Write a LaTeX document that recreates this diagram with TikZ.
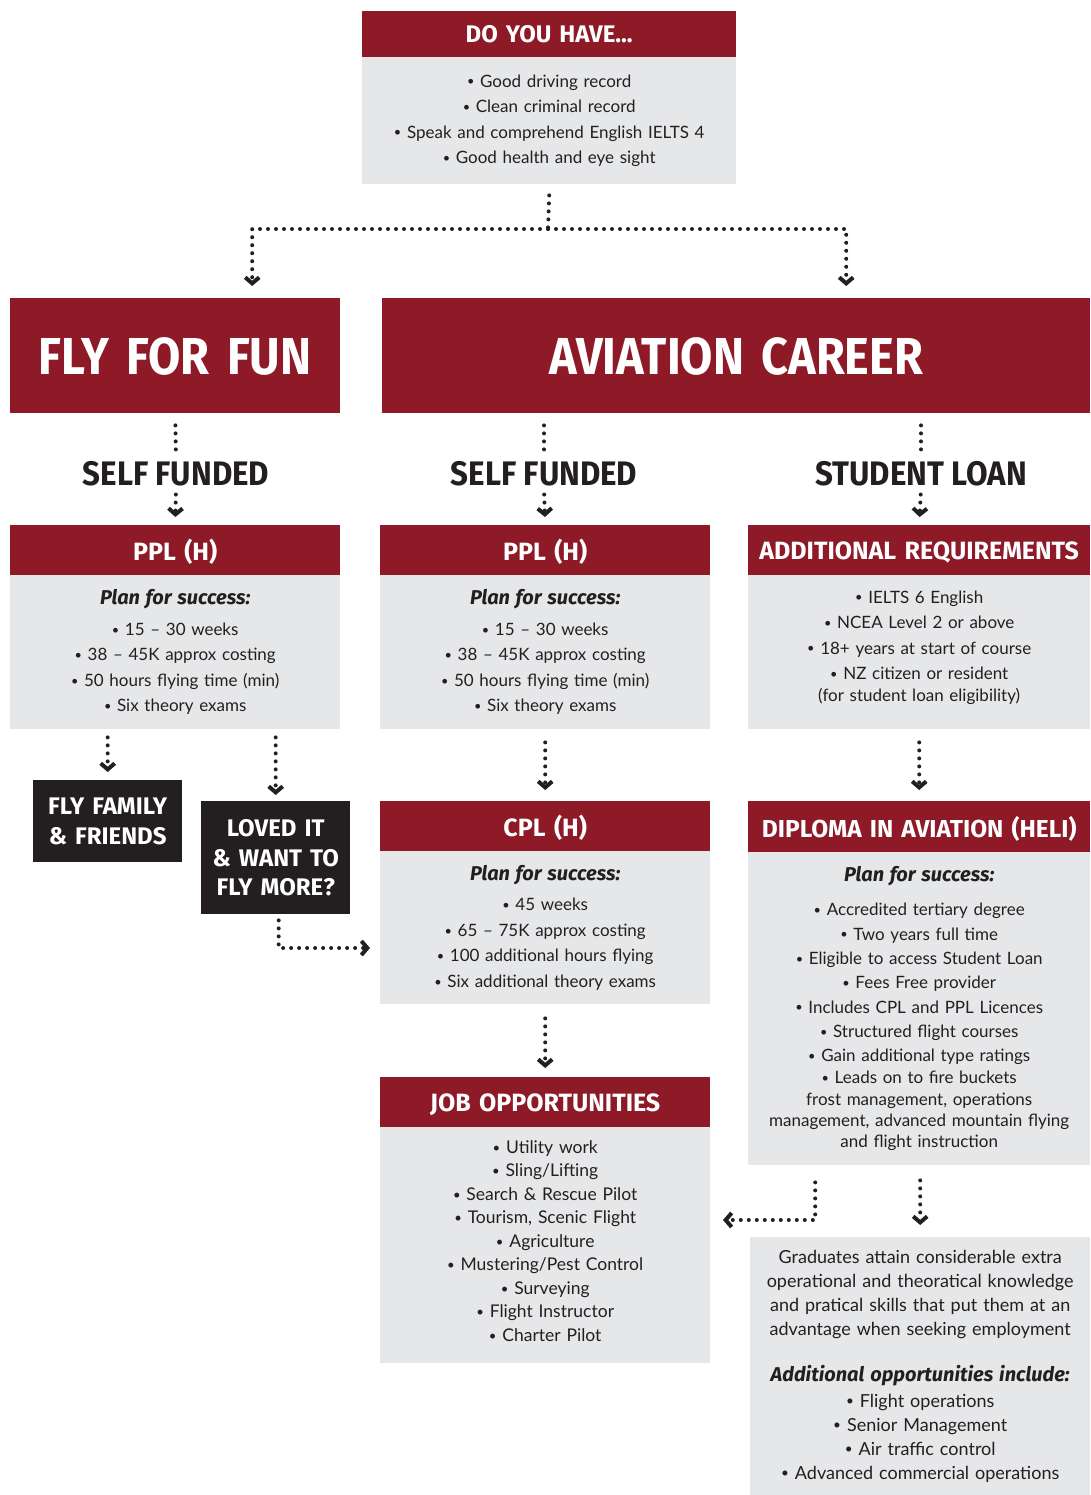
\documentclass[tikz,border=0pt]{standalone}
\usepackage{fontspec}
\setmainfont{Lato}
\newfontfamily\headfont{Fira Sans}
\newfontfamily\tallfont{Fira Sans}[FakeStretch=0.9]
\newfontfamily\narrowfont{Fira Sans}[FakeStretch=0.92]
\usetikzlibrary{arrows.meta}
\definecolor{wine}{RGB}{142,26,40}
\definecolor{panel}{RGB}{230,231,232}
\definecolor{ink}{RGB}{35,31,32}
\tikzset{
  head/.style={fill=wine, text=white, anchor=north west, inner sep=0pt, align=center, text depth=0pt,
    font=\headfont\bfseries\fontsize{25}{28}\selectfont},
  body/.style={fill=panel, text=ink, anchor=north west, inner sep=0pt, align=center,
    font=\fontsize{17}{25.5}\selectfont},
  darkbox/.style={fill=ink, text=white, anchor=north west, inner sep=0pt, align=center,
    font=\headfont\bfseries\fontsize{24}{29.5}\selectfont},
  branch/.style={text=ink, inner sep=2pt, font=\narrowfont\bfseries\fontsize{34}{40}\selectfont},
  dots/.style={draw=ink, line width=4pt, line cap=round, dash pattern=on 0pt off 8pt},
  route/.style={dots, -{Straight Barb[length=6pt,width=14pt,line width=4pt]}}
}
\newcommand{\bul}{\raisebox{0.15ex}{\scalebox{0.75}{\textbullet}}\ }
\newcommand{\plan}{{\headfont\bfseries\itshape\fontsize{20}{24}\selectfont Plan for success:}}
\begin{document}
\begin{tikzpicture}[x=1pt,y=-1pt]
\useasboundingbox (0,0) rectangle (1090,1495);
\node[head, text width=374pt, minimum height=46pt, font=\headfont\bfseries\fontsize{24}{28}\selectfont] (havehead) at (362,11) {DO YOU HAVE...};
\node[body, text width=374pt, minimum height=127pt] (havebody) at (362,57)
  {\bul Good driving record\\ \bul Clean criminal record\\
   \bul Speak and comprehend English IELTS 4\\ \bul Good health and eye sight};
\node[head, text width=330pt, minimum height=115pt, font=\tallfont\bfseries\fontsize{52}{60}\selectfont] (fun) at (10,298) {FLY FOR FUN};
\node[head, text width=708pt, minimum height=115pt, font=\tallfont\bfseries\fontsize{52}{60}\selectfont] (career) at (382,298) {AVIATION CAREER};
\node[branch] (self1) at (176,474) {SELF FUNDED};
\node[branch] (self2) at (544,474) {SELF FUNDED};
\node[branch] (loan) at (921,474) {STUDENT LOAN};
\node[head, text width=330pt, minimum height=50pt] (ppl1head) at (10,525) {PPL (H)};
\node[body, text width=330pt, minimum height=154pt] (ppl1body) at (10,575)
  {\plan\\[5pt] \bul 15 -- 30 weeks\\ \bul 38 -- 45K approx costing\\
   \bul 50 hours flying time (min)\\ \bul Six theory exams};
\node[head, text width=330pt, minimum height=50pt] (ppl2head) at (380,525) {PPL (H)};
\node[body, text width=330pt, minimum height=154pt] (ppl2body) at (380,575)
  {\plan\\[5pt] \bul 15 -- 30 weeks\\ \bul 38 -- 45K approx costing\\
   \bul 50 hours flying time (min)\\ \bul Six theory exams};
\node[head, text width=342pt, minimum height=50pt] (reqhead) at (748,525) {ADDITIONAL REQUIREMENTS};
\node[body, text width=342pt, minimum height=154pt] (reqbody) at (748,575)
  {\bul IELTS 6 English\\ \bul NCEA Level 2 or above\\
   \bul 18+ years at start of course\\ \bul NZ citizen or resident\\[-4pt]
   (for student loan eligibility)\\[-13pt]\mbox{}};
\node[darkbox, text width=149pt, minimum height=82pt] (family) at (33,780) {FLY FAMILY\\ \& FRIENDS};
\node[darkbox, text width=149pt, minimum height=113pt] (loved) at (201,801) {LOVED IT\\ \& WANT TO\\ FLY MORE?};
\node[head, text width=330pt, minimum height=50pt] (cplhead) at (380,801) {CPL (H)};
\node[body, text width=330pt, minimum height=153pt] (cplbody) at (380,851)
  {\plan\\[5pt] \bul 45 weeks\\ \bul 65 -- 75K approx costing\\
   \bul 100 additional hours flying\\ \bul Six additional theory exams};
\node[head, text width=342pt, minimum height=51pt, font=\headfont\bfseries\fontsize{24.5}{28}\selectfont] (diphead) at (748,801) {DIPLOMA IN AVIATION (HELI)};
\node[body, text width=342pt, minimum height=313pt, font=\fontsize{17}{24.3}\selectfont] (dipbody) at (748,852)
  {\plan\\[10pt] \bul Accredited tertiary degree\\ \bul Two years full time\\
   \bul Eligible to access Student Loan\\ \bul Fees Free provider\\
   \bul Includes CPL and PPL Licences\\ \bul Structured flight courses\\
   \bul Gain additional type ratings\\[-2pt] \bul Leads on to fire buckets\\[-3pt]
   frost management, operations\\[-3pt] management, advanced mountain flying\\[-3pt] and flight instruction};
\node[head, text width=330pt, minimum height=50pt] (jobhead) at (380,1077) {JOB OPPORTUNITIES};
\node[body, text width=330pt, minimum height=236pt, font=\fontsize{17.5}{23.5}\selectfont] (jobbody) at (380,1127)
  {\bul Utility work\\ \bul Sling/Lifting\\ \bul Search \& Rescue Pilot\\
   \bul Tourism, Scenic Flight\\ \bul Agriculture\\ \bul Mustering/Pest Control\\
   \bul Surveying\\ \bul Flight Instructor\\ \bul Charter Pilot\\[-15pt]\mbox{}};
\node[body, text width=340pt, minimum height=258pt, font=\fontsize{18}{24}\selectfont] (grads) at (750,1237)
  {Graduates attain considerable extra\\ operational and theoratical knowledge\\
   and pratical skills that put them at an\\ advantage when seeking employment\\[22pt]
   {\headfont\bfseries\itshape\fontsize{20}{24}\selectfont Additional opportunities include:}\\[2pt]
   \bul Flight operations\\ \bul Senior Management\\
   \bul Air traffic control\\ \bul Advanced commercial operations};
\coordinate (split) at (548,229);
\coordinate (loopin) at (370,948);
\coordinate (jobin) at (723,1220);
\draw[dots] ([yshift=-11pt]havebody.south) -- (split);
\draw[route] (split) -| ([xshift=77pt,yshift=12pt]fun.north);
\draw[route] (split) -| ([xshift=110pt,yshift=12pt]career.north);
\draw[dots, shorten <=12pt, shorten >=4pt] (fun.south) -- (self1.north);
\draw[dots, shorten <=12pt, shorten >=4pt] (self2.north |- career.south) -- (self2.north);
\draw[dots, shorten <=12pt, shorten >=4pt] (loan.north |- career.south) -- (loan.north);
\draw[route, shorten <=6pt, shorten >=8pt] (self1.south) -- (ppl1head.north);
\draw[route, shorten <=6pt, shorten >=8pt] (self2.south) -- (ppl2head.north);
\draw[route, shorten <=6pt, shorten >=8pt] (loan.south) -- (reqhead.north);
\draw[route, shorten <=8pt, shorten >=8pt] (family.north |- ppl1body.south) -- (family.north);
\draw[route, shorten <=8pt, shorten >=6pt] (loved.north |- ppl1body.south) -- (loved.north);
\draw[route] ([xshift=3pt,yshift=-6pt]loved.south) |- (loopin);
\draw[route, shorten <=13pt, shorten >=11pt] (ppl2body.south) -- (cplhead.north);
\draw[route, shorten <=13pt, shorten >=11pt] (reqbody.south) -- (diphead.north);
\draw[route, shorten <=14pt, shorten >=9pt] (cplbody.south) -- (jobhead.north);
\draw[route, shorten <=15pt, shorten >=12pt] (grads.north |- dipbody.south) -- (grads.north);
\draw[route] ([xshift=-104pt,yshift=-17pt]dipbody.south) |- (jobin);
\end{tikzpicture}
\end{document}
